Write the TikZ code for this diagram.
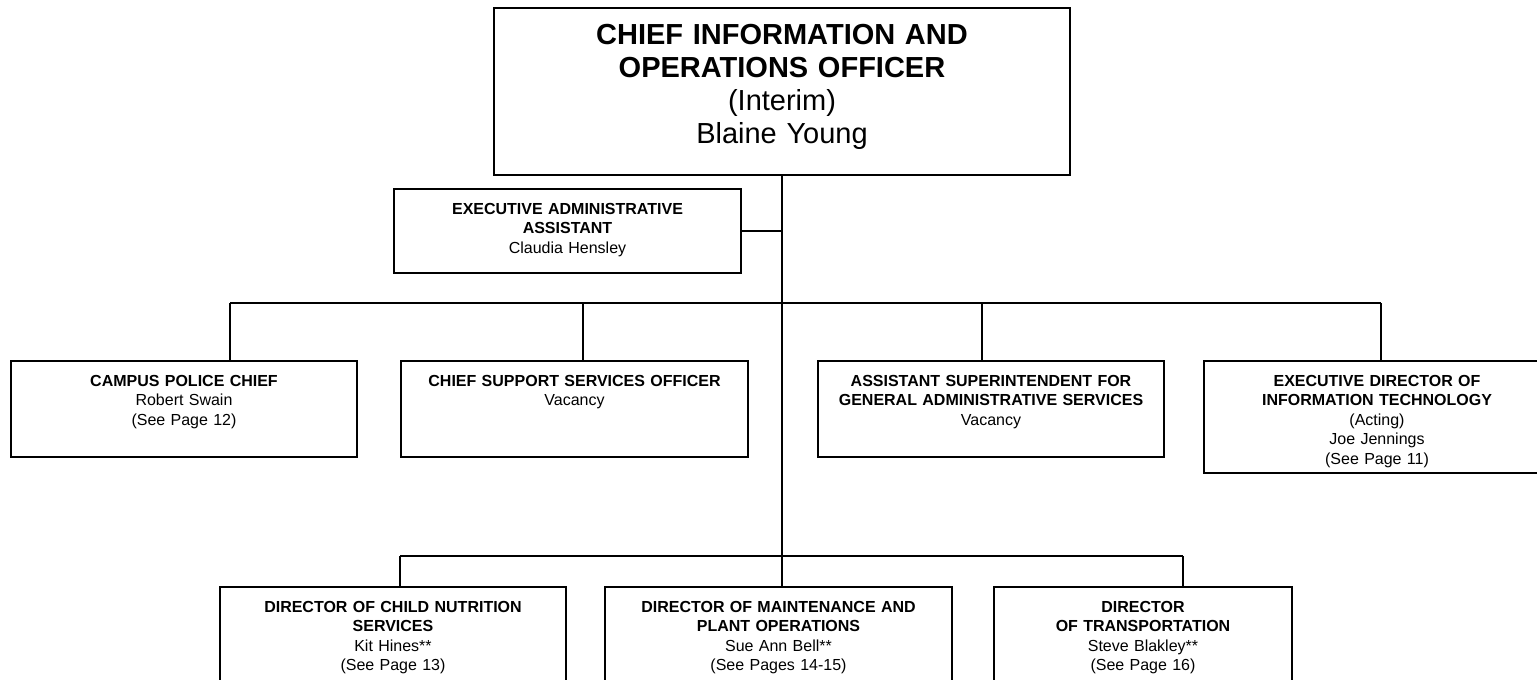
\documentclass[tikz,border=0pt]{standalone}
\usepackage{fontspec}
\setmainfont{Liberation Sans}
\tikzstyle{post} = [draw, line width=1pt, inner sep=0pt, anchor=north west, align=center, text height=12.6pt, font=\fontsize{8pt}{9.75pt}\selectfont]
\tikzstyle{head} = [post, text height=18.2pt, font=\fontsize{14.5pt}{16.5pt}\selectfont]
\tikzstyle{link} = [line width=1pt]

\begin{document}
\begin{tikzpicture}[x=0.5pt, y=-0.5pt]
	\useasboundingbox (0,0) rectangle (1537,680);
	\clip (0,0) rectangle (1537,680);

	% top of the chart
	\node[head, text width=288pt, text depth=65.3pt] (cioo) at (493,7)
		{\textbf{CHIEF INFORMATION AND}\\\textbf{OPERATIONS OFFICER}\\(Interim)\\Blaine Young};
	\node[post, text width=173.5pt, text depth=29.4pt] (assistant) at (393,188)
		{\textbf{EXECUTIVE ADMINISTRATIVE}\\\textbf{ASSISTANT}\\Claudia Hensley};

	% first row
	\node[post, text width=173pt, text depth=35.4pt] (police) at (10,360)
		{\textbf{CAMPUS POLICE CHIEF}\\Robert Swain\\(See Page 12)};
	\node[post, text width=173.5pt, text depth=35.4pt] (support) at (400,360)
		{\textbf{CHIEF SUPPORT SERVICES OFFICER}\\Vacancy};
	\node[post, text width=173pt, text depth=35.4pt] (general) at (817,360)
		{\textbf{ASSISTANT SUPERINTENDENT FOR}\\\textbf{GENERAL ADMINISTRATIVE SERVICES}\\Vacancy};
	\node[post, text width=173pt, text depth=43.4pt] (tech) at (1203,360)
		{\textbf{EXECUTIVE DIRECTOR OF}\\\textbf{INFORMATION TECHNOLOGY}\\(Acting)\\Joe Jennings\\(See Page 11)};

	% second row
	\node[post, text width=173pt, text depth=42.4pt] (nutrition) at (219,586)
		{\textbf{DIRECTOR OF CHILD NUTRITION}\\\textbf{SERVICES}\\Kit Hines**\\(See Page 13)};
	\node[post, text width=173.5pt, text depth=42.4pt] (plant) at (604,586)
		{\textbf{DIRECTOR OF MAINTENANCE AND}\\\textbf{PLANT OPERATIONS}\\Sue Ann Bell**\\(See Pages 14-15)};
	\node[post, text width=149pt, text depth=42.4pt] (transport) at (993,586)
		{\textbf{DIRECTOR}\\\textbf{OF TRANSPORTATION}\\Steve Blakley**\\(See Page 16)};

	% bus lines
	\coordinate (upleft) at (230,303);
	\coordinate (upright) at (1381,303);
	\coordinate (supportdrop) at (583,303);
	\coordinate (generaldrop) at (982,303);
	\coordinate (lowleft) at (400,556);
	\coordinate (lowright) at (1183,556);

	\draw[link] (cioo.south) -- (cioo.south |- plant.north);
	\draw[link] (assistant.east) -- (assistant.east -| cioo.south);
	\draw[link] (upleft) -- (upright);
	\draw[link] (upleft) -- (upleft |- police.north);
	\draw[link] (supportdrop) -- (supportdrop |- support.north);
	\draw[link] (generaldrop) -- (generaldrop |- general.north);
	\draw[link] (upright) -- (upright |- tech.north);
	\draw[link] (lowleft) -- (lowright);
	\draw[link] (lowleft) -- (lowleft |- nutrition.north);
	\draw[link] (lowright) -- (lowright |- transport.north);
\end{tikzpicture}
\end{document}
